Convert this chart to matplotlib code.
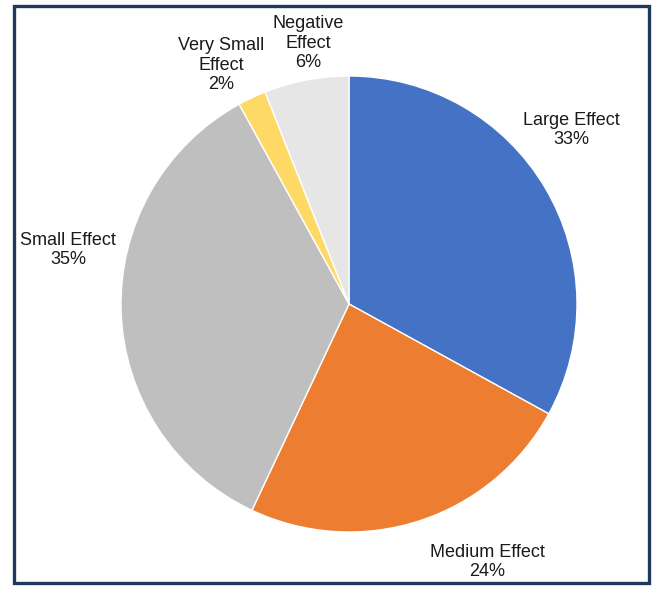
import matplotlib
matplotlib.use("Agg")
import matplotlib.pyplot as plt
from matplotlib.patches import Rectangle

labels = ["Large Effect", "Medium Effect", "Small Effect", "Very Small Effect", "Negative Effect"]
shares = [33, 24, 35, 2, 6]
colors = ["#4472C4", "#ED7D31", "#BFBFBF", "#FFD966", "#E7E6E6"]
label_text = ["Large Effect\n33%", "Medium Effect\n24%", "Small Effect\n35%",
              "Very Small\nEffect\n2%", "Negative\nEffect\n6%"]
label_pos = [(571, 130), (487, 562), (68, 250), (221, 65), (308, 43)]

plt.rcParams['font.family'] = ['Liberation Sans', 'DejaVu Sans']

W, H = 654, 591
fig = plt.figure(figsize=(W / 100, H / 100), dpi=100)
ax = fig.add_axes([0, 0, 1, 1])

cx, cy, r = 349, 304, 228
ax.pie(shares, colors=colors, startangle=90, counterclock=False,
       center=(cx, H - cy), radius=r, frame=True,
       wedgeprops=dict(edgecolor="white", linewidth=1.0))

for txt, (x, y) in zip(label_text, label_pos):
    ax.text(x, H - y, txt, ha="center", va="center", fontsize=13,
            color="#1a1a1a", linespacing=1.22)

ax.set_xlim(0, W)
ax.set_ylim(0, H)
ax.set_aspect("equal")
ax.axis("off")

# outer frame
fig.patches.append(Rectangle((14 / W, 8 / H), (649 - 14) / W, (585 - 8) / H,
                             transform=fig.transFigure, fill=False,
                             edgecolor="#1F3A5A", linewidth=2.4))

fig.savefig("out.png", dpi=100, facecolor="white")
